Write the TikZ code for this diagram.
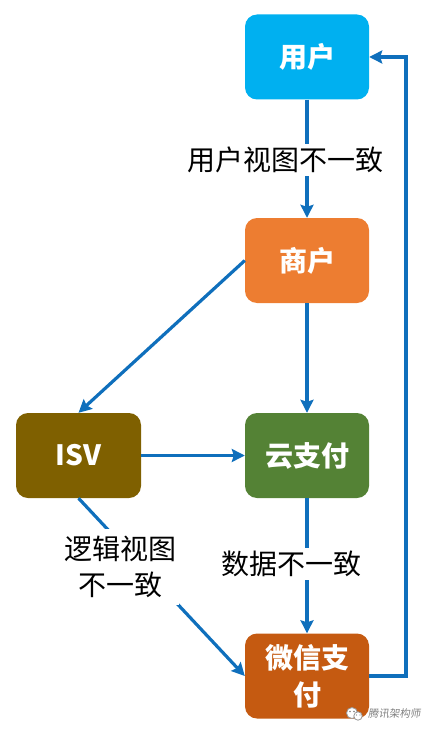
\documentclass[tikz,border=0pt]{standalone}
\usepackage{fontspec}
\setmainfont{Noto Sans CJK SC}
\usetikzlibrary{arrows.meta}
\definecolor{cblue}{HTML}{00B0F0}
\definecolor{corange}{HTML}{ED7D31}
\definecolor{cgreen}{HTML}{548235}
\definecolor{cbrown}{HTML}{7F6000}
\definecolor{crust}{HTML}{C55A11}
\definecolor{cline}{HTML}{0F6FBC}
\tikzset{
  boxnode/.style={rounded corners=12pt,minimum width=124pt,minimum height=85pt,inner sep=0pt,text=white,align=center,font=\fontsize{28}{37}\selectfont\bfseries},
  flow/.style={cline,line width=3.2pt,-{Stealth[length=13pt,width=13pt,inset=2pt]}},
  lbl/.style={fill=white,inner sep=3pt,text=black,align=center,font=\fontsize{28}{36}\selectfont},
}
\begin{document}
\begin{tikzpicture}[x=1pt,y=-1pt]
\useasboundingbox (0,0) rectangle (433,733);
\node[boxnode,fill=cblue] (user) at (307,57) {用户};
\node[boxnode,fill=corange] (merchant) at (307,260.5) {商户};
\node[boxnode,fill=cgreen] (cloud) at (307,455.5) {云支付};
\node[boxnode,fill=cbrown,minimum width=125pt] (isv) at (78.5,455.5) {ISV};
\node[boxnode,fill=crust] (wx) at (307,676) {微信支\\付};
\coordinate (c1) at (406,676);
\coordinate (c2) at (406,57);
\draw[flow] (user) -- (merchant);
\draw[flow] (merchant) -- (cloud);
\draw[flow] (merchant.west) -- (isv.north);
\draw[flow] (isv) -- (cloud);
\draw[flow] (cloud) -- (wx);
\draw[flow] (isv.south) -- (wx.west);
\draw[flow] (wx.east) -- (c1) -- (c2) -- (user.east);
\node[lbl] (l1) at (285,160) {用户视图不一致};
\node[lbl] (l2) at (291,564) {数据不一致};
\node[lbl,inner ysep=7pt] (l3) at (120,567) {逻辑视图\\不一致};
% watermark
\begin{scope}[draw=gray!80,fill=white,line width=0.8pt]
\filldraw (352,713) circle (5.5pt);
\filldraw (358,716) circle (4.2pt);
\fill[gray] (350,711.5) circle (0.8pt) (354,711.5) circle (0.8pt) (356.5,715) circle (0.6pt) (360,715) circle (0.6pt);
\end{scope}
\node[text=gray,inner sep=0pt,font=\fontsize{10.5}{12}\selectfont,xslant=0.15] (wm) at (395,714) {腾讯架构师};
\end{tikzpicture}
\end{document}
